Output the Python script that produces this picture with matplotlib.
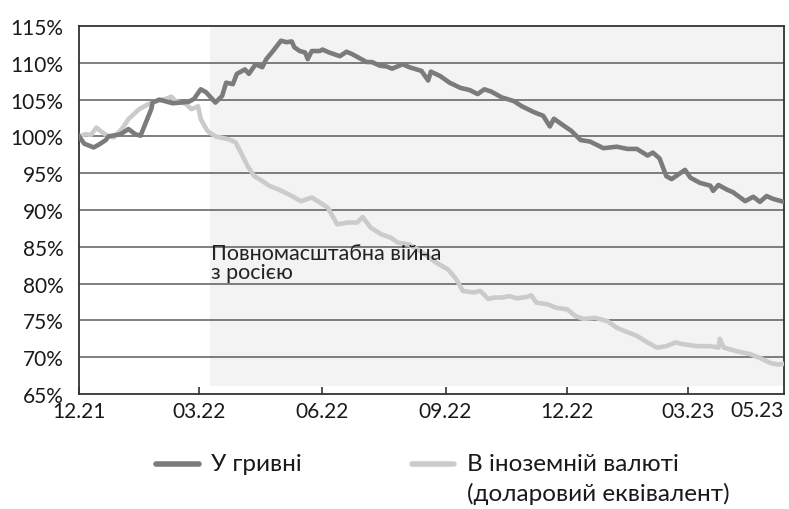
import matplotlib
matplotlib.use("Agg")
import matplotlib.pyplot as plt
from matplotlib.lines import Line2D
import numpy as np
import pandas as pd

plt.rcParams['font.family'] = ['Lato', 'DejaVu Sans']

start = pd.Timestamp("2021-12-01")

# UAH deposits (index, %), days since 2021-12-01
uah_days = [0, 4, 11, 15, 20, 22, 31, 37, 42, 46, 54, 55, 60, 70, 82, 86, 91, 95, 102, 107,
            110, 115, 118, 124, 127, 132, 137, 140, 145, 151, 155, 159, 161, 165, 169, 171, 174,
            180, 182, 187, 195, 200, 204, 210, 215, 219, 225, 230, 234, 242, 247, 256, 261, 263,
            270, 277, 285, 292, 298, 303, 308, 316, 325, 331, 340, 347, 352, 355, 362, 368, 375,
            382, 392, 402, 410, 417, 425, 429, 434, 439, 443, 447, 453, 457, 464, 472, 474, 478,
            484, 489, 498, 504, 509, 514, 519, 527]
uah_vals = [100.0, 99.0, 98.5, 98.9, 99.5, 100.0, 100.3, 101.0, 100.3, 100.1, 103.7, 104.6, 105.0,
            104.5, 104.7, 105.1, 106.4, 106.0, 104.6, 105.5, 107.3, 107.1, 108.5, 109.1, 108.5,
            109.8, 109.4, 110.5, 111.6, 113.0, 112.8, 112.9, 112.1, 111.6, 111.4, 110.5, 111.6,
            111.6, 111.8, 111.4, 110.9, 111.5, 111.2, 110.6, 110.1, 110.1, 109.6, 109.5, 109.2,
            109.8, 109.4, 108.9, 107.6, 108.8, 108.2, 107.3, 106.6, 106.3, 105.75, 106.4, 106.1,
            105.3, 104.8, 104.1, 103.3, 102.8, 101.35, 102.4, 101.5, 100.75, 99.5, 99.3, 98.4,
            98.6, 98.3, 98.3, 97.4, 97.8, 97.0, 94.6, 94.2, 94.7, 95.45, 94.4, 93.7, 93.3, 92.6,
            93.4, 92.8, 92.4, 91.2, 91.8, 91.1, 91.9, 91.5, 91.1]

# FX deposits (USD equivalent, index %)
fx_days = [0, 5, 9, 13, 16, 21, 26, 32, 37, 45, 52, 59, 65, 69, 72, 80, 84, 89, 91, 96, 102, 112,
           117, 121, 126, 131, 137, 142, 149, 157, 166, 174, 182, 186, 193, 201, 208, 212, 218,
           226, 233, 238, 247, 257, 267, 276, 282, 287, 295, 300, 306, 310, 316, 322, 327, 335,
           338, 342, 350, 357, 365, 371, 377, 386, 395, 402, 408, 417, 425, 432, 439, 446, 452,
           462, 472, 478, 479, 482, 492, 502, 509, 517, 523, 527]
fx_vals = [100.0, 100.3, 100.2, 101.2, 100.75, 100.1, 99.85, 101.0, 102.35, 103.7, 104.4, 104.85,
           105.1, 105.4, 104.85, 104.4, 103.7, 104.1, 102.35, 100.75, 100.0, 99.6, 99.2, 97.8,
           96.0, 94.6, 93.95, 93.3, 92.8, 92.1, 91.2, 91.7, 90.8, 90.3, 88.05, 88.3, 88.3, 89.05,
           87.6, 86.7, 86.25, 85.6, 85.3, 84.2, 82.85, 81.9, 80.6, 79.0, 78.8, 79.0, 77.9, 78.1,
           78.1, 78.3, 78.0, 78.2, 78.4, 77.4, 77.2, 76.7, 76.5, 75.6, 75.2, 75.35, 74.9, 74.0,
           73.55, 72.9, 72.0, 71.3, 71.5, 72.0, 71.75, 71.5, 71.5, 71.3, 72.5, 71.3, 70.8, 70.4,
           69.9, 69.2, 69.0, 69.1]

tick_dates = ["2021-12-01", "2022-03-01", "2022-06-01", "2022-09-01", "2022-12-01", "2023-03-01"]
tick_labels = ["12.21", "03.22", "06.22", "09.22", "12.22", "03.23"]
end_label = "05.23"
war_start = "2022-03-09"
x_end = "2023-05-12"
yticks = list(range(65, 116, 5))
annotation = "Повномасштабна війна\nз росією"
legend_labels = ["У гривні", "В іноземній валюті", "(доларовий еквівалент)"]

dark = "#7b7b7b"
light = "#cbcbcb"
txt = "#1a1a1a"
FS = 15

uah_x = start + pd.to_timedelta(uah_days, unit="D")
fx_x = start + pd.to_timedelta(fx_days, unit="D")

fig = plt.figure(figsize=(7.89, 5.10), dpi=100)
W, H = 789, 510
ax = fig.add_axes([79 / W, 1 - 395 / H, (784 - 79) / W, (395 - 27) / H])

ax.set_xlim(start, pd.Timestamp(x_end))
ax.set_ylim(65, 115)

ax.axvspan(pd.Timestamp(war_start), pd.Timestamp(x_end), ymin=(66.1 - 65) / 50, ymax=1,
           color="#f3f3f3", lw=0, zorder=0)

for v in yticks[1:-1]:
    ax.axhline(v, color="#5c5c5c", lw=1.1, zorder=1)

ax.plot(fx_x, fx_vals, color=light, lw=3.3, zorder=3, solid_joinstyle="round")
ax.plot(uah_x, uah_vals, color=dark, lw=3.3, zorder=4, solid_joinstyle="round")

ax.set_yticks(yticks)
ax.set_yticklabels([f"{v}%" for v in yticks])
ax.tick_params(axis="y", length=0, pad=11, labelsize=FS, colors=txt)
ax.set_xticks(pd.to_datetime(tick_dates))
ax.set_xticklabels(tick_labels)
ax.tick_params(axis="x", direction="in", length=5, width=1.2, color="#333333",
               pad=5, labelsize=FS, labelcolor=txt)
ax.text(pd.Timestamp(x_end), 65 - 0.75, end_label, ha="right", va="top",
        fontsize=FS, color=txt)

for s in ax.spines.values():
    s.set_color("#333333")
    s.set_linewidth(1.3)

ax.text(pd.Timestamp(war_start) + pd.Timedelta(days=1), 85.5, annotation, ha="left", va="top",
        fontsize=15.5, color="#222222", linespacing=0.95, zorder=5)

# legend (manual, figure pixel coords)
def fx_(px):
    return px / W

def fy_(py):
    return 1 - py / H

LFS = 17.5
fig.add_artist(Line2D([fx_(156), fx_(199)], [fy_(465), fy_(465)], color=dark, lw=4,
                      solid_capstyle="round"))
fig.text(fx_(211), fy_(465), legend_labels[0], ha="left", va="center", fontsize=LFS, color=txt)
fig.add_artist(Line2D([fx_(412), fx_(454)], [fy_(465), fy_(465)], color=light, lw=4,
                      solid_capstyle="round"))
fig.text(fx_(467), fy_(465), legend_labels[1], ha="left", va="center", fontsize=LFS, color=txt)
fig.text(fx_(467), fy_(494), legend_labels[2], ha="left", va="center", fontsize=LFS, color=txt)

fig.savefig("out.png", dpi=100)
